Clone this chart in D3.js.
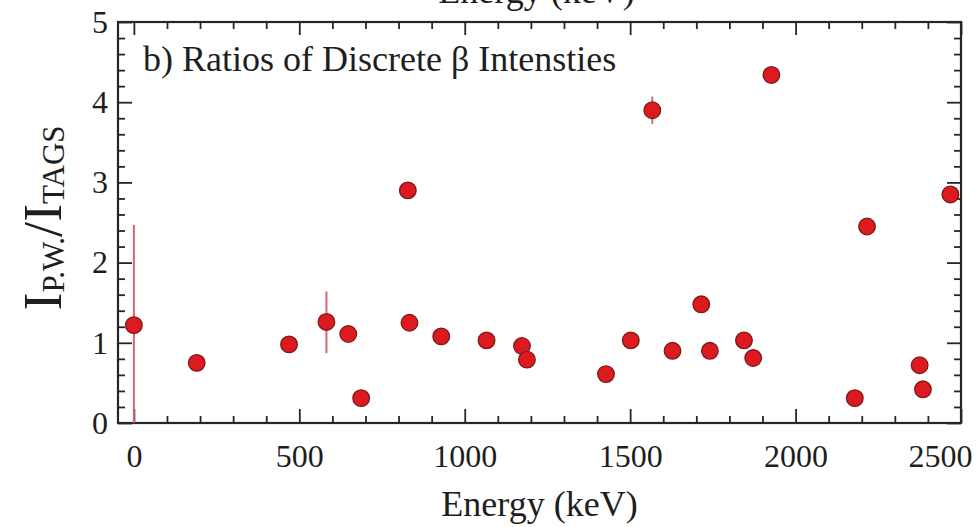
<!DOCTYPE html>
<html>
<head>
<meta charset="utf-8">
<script src="https://cdn.jsdelivr.net/npm/d3@7"></script>
<style>
  html, body { margin: 0; padding: 0; background: #fff; }
  svg { display: block; }
  text { font-family: "Liberation Serif", "DejaVu Serif", serif; fill: #1e1e1e; }
</style>
</head>
<body>
<svg id="chart" width="980" height="527"></svg>
<script>
// ---- data ----
const energies = [0, 190, 469, 582, 648, 687, 828, 833, 929, 1066, 1173, 1188, 1427, 1502, 1567, 1628, 1715, 1741, 1844, 1872, 1927, 2179, 2216, 2375, 2385, 2468];
const ratios   = [1.22, 0.75, 0.98, 1.26, 1.11, 0.31, 2.90, 1.25, 1.08, 1.03, 0.96, 0.79, 0.61, 1.03, 3.90, 0.90, 1.48, 0.90, 1.03, 0.81, 4.34, 0.31, 2.45, 0.72, 0.42, 2.85];
const errEnergies = [0, 582, 1567];
const errLow      = [0.00, 0.87, 3.73];
const errHigh     = [2.47, 1.64, 4.07];
const xMajorTicks = [0, 500, 1000, 1500, 2000, 2500];
const xMinorTicks = d3.range(0, 2501, 100).filter(v => v % 500 !== 0);
const yMajorTicks = [0, 1, 2, 3, 4, 5];
const yMinorTicks = d3.range(0, 5.01, 0.2).map(v => +v.toFixed(1)).filter(v => Math.abs(v - Math.round(v)) > 1e-6);
const panelLabel = "b) Ratios of Discrete β Intensties";
const xTitle = "Energy (keV)";

// ---- layout ----
const svg = d3.select("#chart");
const L = 118, R = 961, T = 22, B = 423;
const x = d3.scaleLinear().domain([-48, 2500]).range([L, R]);
const y = d3.scaleLinear().domain([0, 5]).range([B, T]);

const axisColor = "#262626";
const tickFont = 32;

function styleAxis(g) {
  g.select(".domain").remove();
  g.selectAll(".tick line").attr("stroke", axisColor).attr("stroke-width", 1.8);
  g.selectAll(".tick text").style("font-size", tickFont + "px").style("font-family", '"Liberation Serif", serif').attr("fill", "#1e1e1e");
}

// bottom axis: major with labels
const gB = svg.append("g").attr("transform", `translate(0,${B})`)
  .call(d3.axisBottom(x).tickValues(xMajorTicks).tickSizeInner(-14).tickSizeOuter(0).tickPadding(21).tickFormat(d3.format("d")))
  .call(styleAxis);
gB.selectAll(".tick text").filter(d => d === 2500).attr("text-anchor", "end").attr("x", 11);
svg.append("g").attr("transform", `translate(0,${B})`)
  .call(d3.axisBottom(x).tickValues(xMinorTicks).tickSizeInner(-7).tickSizeOuter(0).tickFormat(""))
  .call(styleAxis);

// top axis: ticks only
svg.append("g").attr("transform", `translate(0,${T})`)
  .call(d3.axisTop(x).tickValues(xMajorTicks).tickSizeInner(-13).tickSizeOuter(0).tickFormat(""))
  .call(styleAxis);
svg.append("g").attr("transform", `translate(0,${T})`)
  .call(d3.axisTop(x).tickValues(xMinorTicks).tickSizeInner(-7).tickSizeOuter(0).tickFormat(""))
  .call(styleAxis);

// left axis: major with labels
svg.append("g").attr("transform", `translate(${L},0)`)
  .call(d3.axisLeft(y).tickValues(yMajorTicks).tickSizeInner(-14).tickSizeOuter(0).tickPadding(10).tickFormat(d3.format("d")))
  .call(styleAxis);
svg.append("g").attr("transform", `translate(${L},0)`)
  .call(d3.axisLeft(y).tickValues(yMinorTicks).tickSizeInner(-7).tickSizeOuter(0).tickFormat(""))
  .call(styleAxis);

// right axis: ticks only
svg.append("g").attr("transform", `translate(${R},0)`)
  .call(d3.axisRight(y).tickValues(yMajorTicks).tickSizeInner(-14).tickSizeOuter(0).tickFormat(""))
  .call(styleAxis);
svg.append("g").attr("transform", `translate(${R},0)`)
  .call(d3.axisRight(y).tickValues(yMinorTicks).tickSizeInner(-7).tickSizeOuter(0).tickFormat(""))
  .call(styleAxis);

// frame
svg.append("rect").attr("x", L).attr("y", T).attr("width", R - L).attr("height", B - T)
  .attr("fill", "none").attr("stroke", axisColor).attr("stroke-width", 2.2);

// error bars
svg.append("g").selectAll("line").data(errEnergies).join("line")
  .attr("x1", (d) => x(d)).attr("x2", (d) => x(d))
  .attr("y1", (d, i) => y(errLow[i])).attr("y2", (d, i) => y(errHigh[i]))
  .attr("stroke", "#d9646f").attr("stroke-width", 2);

// points
svg.append("g").selectAll("circle").data(energies).join("circle")
  .attr("cx", d => x(d)).attr("cy", (d, i) => y(ratios[i])).attr("r", 8.3)
  .attr("fill", "#dc1a20").attr("stroke", "#7d1a1a").attr("stroke-width", 1.3);

// panel label
svg.append("text").attr("x", 143).attr("y", 71).style("font-size", "36px").text(panelLabel);

// x title (bottom) and clipped title of the panel above
svg.append("text").attr("x", (L + R) / 2).attr("y", 516).attr("text-anchor", "middle").style("font-size", "36px").text(xTitle);
svg.append("text").attr("x", (L + R) / 2 - 3).attr("y", 3).attr("text-anchor", "middle").style("font-size", "36px").text(xTitle);

// y title: I_{P.W.}/I_{TAGS}
const yt = svg.append("text").attr("transform", "translate(61,218) rotate(-90)").attr("text-anchor", "middle").style("font-size", "54px");
yt.append("tspan").text("I");
yt.append("tspan").attr("dy", 3).style("font-size", "31px").text("P.W.");
yt.append("tspan").attr("dy", -3).text("/I");
yt.append("tspan").attr("dy", 3).style("font-size", "31px").text("TAGS");
</script>
</body>
</html>
